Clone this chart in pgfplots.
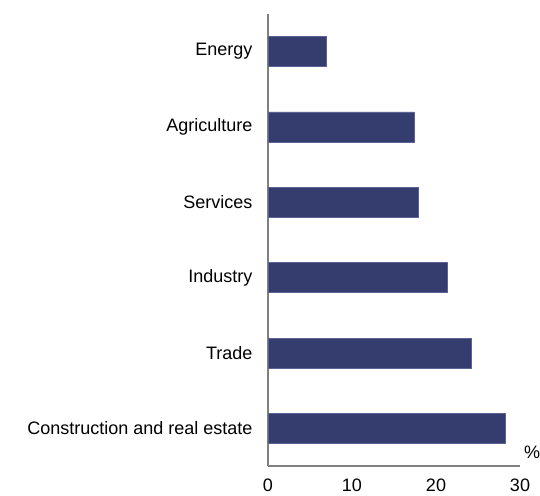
\documentclass[border=0pt]{standalone}
\usepackage{pgfplots}
\pgfplotsset{compat=1.18}
\usepackage{fontspec}
\setmainfont{Liberation Sans}
\definecolor{barblue}{HTML}{353C6E}
\definecolor{baredge}{HTML}{5C6296}
\definecolor{axisgray}{HTML}{808080}
\begin{document}
\begin{tikzpicture}[x=1pt,y=1pt]
\useasboundingbox (0,0) rectangle (540,495);
\begin{axis}[
  at={(268pt,29pt)}, anchor=south west,
  scale only axis, width=252pt, height=452pt,
  xmin=0, xmax=30, ymin=-0.5, ymax=5.5,
  xtick={0,10,20,30},
  ytick={0,1,2,3,4,5},
  yticklabels={Construction and real estate, Trade, Industry, Services, Agriculture, Energy},
  axis x line=bottom, axis y line=left,
  axis line style={-, draw=axisgray, line width=1.5pt},
  major tick length=0pt,
  tick label style={font=\fontsize{18}{21}\selectfont},
  /pgf/number format/assume math mode=true,
  xticklabel style={yshift=-9pt},
  yticklabel style={xshift=-12pt},
  clip=false,
]
\addplot[xbar, bar width=30pt, fill=barblue, draw=baredge, line width=0.6pt]
  coordinates {(28.3,0) (24.2,1) (21.4,2) (17.9,3) (17.4,4) (6.9,5)};
\node[anchor=center, font=\fontsize{18}{21}\selectfont] at ([xshift=12pt,yshift=14pt]rel axis cs:1,0) {\%};
\end{axis}
\end{tikzpicture}
\end{document}
